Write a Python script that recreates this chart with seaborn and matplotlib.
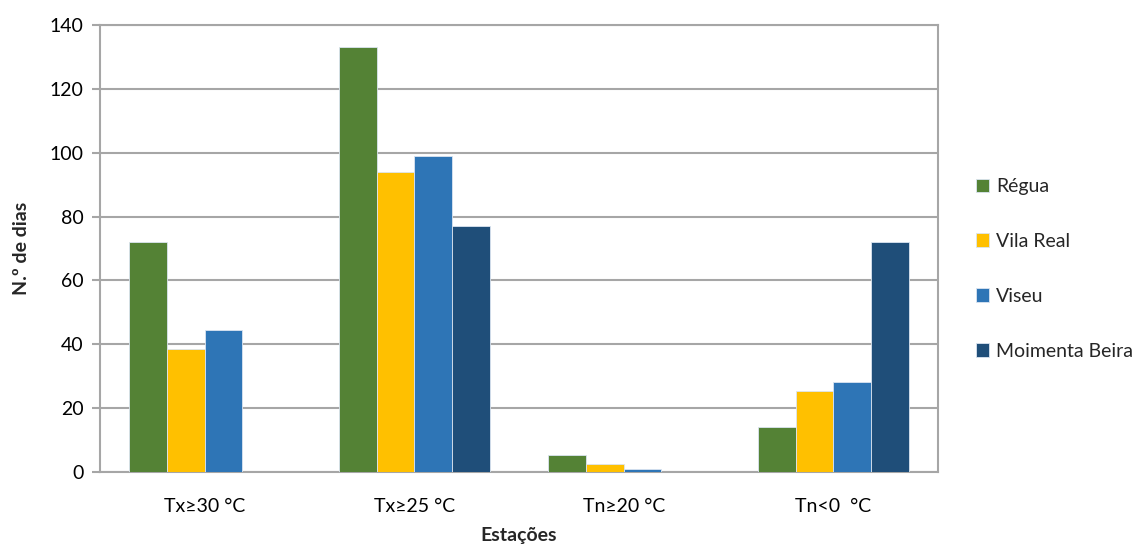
import numpy as np
import pandas as pd
import matplotlib
matplotlib.use("Agg")
import matplotlib.pyplot as plt
import seaborn as sns

categories = ["Tx≥30 °C", "Tx≥25 °C", "Tn≥20 °C", "Tn<0  °C"]
stations = ["Régua", "Vila Real", "Viseu", "Moimenta Beira"]
regua = [72, 133, 5.3, 14.2]
vila_real = [38.5, 94, 2.6, 25.4]
viseu = [44.5, 99, 0.9, 28.1]
moimenta = [np.nan, 77, np.nan, 72]
colors = ["#548235", "#FFC000", "#2E75B6", "#1F4E79"]

rows = []
for st, vals in zip(stations, [regua, vila_real, viseu, moimenta]):
    for cat, v in zip(categories, vals):
        rows.append({"Estações": cat, "Estação": st, "dias": v})
df = pd.DataFrame(rows).dropna()

sns.set_theme(style="white")
plt.rcParams["font.family"] = ["Lato", "DejaVu Sans"]
FS = 14

fig = plt.figure(figsize=(11.48, 5.47), dpi=100)
ax = fig.add_axes([100 / 1148, 1 - 472 / 547, 838 / 1148, 447 / 547])

sns.barplot(data=df, x="Estações", y="dias", hue="Estação",
            order=categories, hue_order=stations, palette=colors,
            width=0.72, gap=0, errorbar=None, saturation=1,
            edgecolor="#dbe5f1", linewidth=0.6, ax=ax, zorder=3)

ax.set_ylim(0, 140)
ax.set_yticks(np.arange(0, 141, 20))
ax.set_xlim(-0.5, len(categories) - 0.5)
ax.yaxis.grid(True, color="#a6a6a6", linewidth=1.5, zorder=0)
ax.set_axisbelow(True)
for s in ax.spines.values():
    s.set_color("#a6a6a6")
    s.set_linewidth(1.5)
ax.tick_params(axis="y", left=True, length=6, width=1.5, color="#a6a6a6",
               labelsize=FS, pad=6, labelcolor="black")
ax.tick_params(axis="x", bottom=False, labelsize=FS, pad=13, labelcolor="black")

ax.set_ylabel("N.º de dias", fontsize=FS, fontweight="bold", labelpad=14)
ax.set_xlabel("Estações", fontsize=FS, fontweight="bold", labelpad=8)

handles, labels = ax.get_legend_handles_labels()
ax.get_legend().remove()
fig.legend(handles, labels, loc="center left",
           bbox_to_anchor=(968 / 1148, 1 - 269 / 547), frameon=False,
           fontsize=FS, handlelength=0.7, handleheight=0.7,
           handletextpad=0.35, labelspacing=1.95, borderaxespad=0)

fig.savefig("out.png", dpi=100)
